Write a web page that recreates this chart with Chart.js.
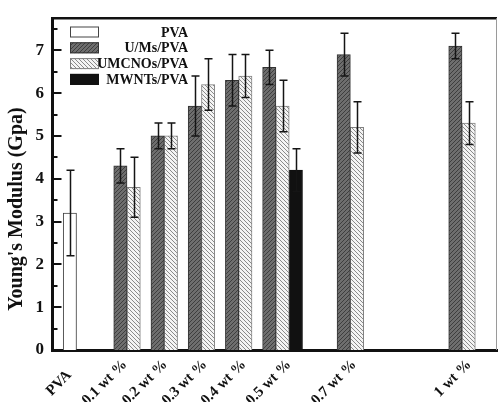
<!DOCTYPE html>
<html>
<head>
<meta charset="utf-8">
<script src="https://cdn.jsdelivr.net/npm/chart.js@4/dist/chart.umd.min.js"></script>
<style>
    html, body { margin: 0; padding: 0; background: #fff; }
    #wrap { width: 498px; height: 402px; }
</style>
</head>
<body>
<div id="wrap"><canvas id="chart" width="498" height="402"></canvas></div>
<script>
// Axis labels and where they sit on the wt% axis (PVA sits under the neat PVA bar)
const tickLabels = ['PVA    ', '0.1 wt %', '0.2 wt %', '0.3 wt %', '0.4 wt %', '0.5 wt %', '0.7 wt %', '1 wt %'];
const tickPositions = [-0.027, 0.094, 0.202, 0.309, 0.414, 0.535, 0.71, 1.019];
const yTicks = [0, 1, 2, 3, 4, 5, 6, 7];
const yTitle = "Young's Modulus (Gpa)";

// Series (load in wt%, modulus in GPa, symmetric error)
const seriesNames = ['PVA', 'U/Ms/PVA', 'UMCNOs/PVA', 'MWNTs/PVA'];

const pvaLoad = [0];
const pvaModulus = [3.2];
const pvaError = [1.0];

const umsLoad = [0.1, 0.2, 0.3, 0.4, 0.5, 0.7, 1];
const umsModulus = [4.3, 5.0, 5.7, 6.3, 6.6, 6.9, 7.1];
const umsError = [0.4, 0.3, 0.7, 0.6, 0.4, 0.5, 0.3];

const umcLoad = [0.1, 0.2, 0.3, 0.4, 0.5, 0.7, 1];
const umcModulus = [3.8, 5.0, 6.2, 6.4, 5.7, 5.2, 5.3];
const umcError = [0.7, 0.3, 0.6, 0.5, 0.6, 0.6, 0.5];

const mwntLoad = [0.5];
const mwntModulus = [4.2];
const mwntError = [0.5];

const serifFont = '"Liberation Serif", "Times New Roman", serif';

function makeHatch(bg, line, forward) {
    const size = 4;
    const c = document.createElement('canvas');
    c.width = size;
    c.height = size;
    const g = c.getContext('2d');
    g.fillStyle = bg;
    g.fillRect(0, 0, size, size);
    g.strokeStyle = line;
    g.lineWidth = 1;
    g.beginPath();
    if (forward) {
        g.moveTo(0, size); g.lineTo(size, 0);
        g.moveTo(-1, 1); g.lineTo(1, -1);
        g.moveTo(size - 1, size + 1); g.lineTo(size + 1, size - 1);
    } else {
        g.moveTo(0, 0); g.lineTo(size, size);
        g.moveTo(size - 1, -1); g.lineTo(size + 1, 1);
        g.moveTo(-1, size - 1); g.lineTo(1, size + 1);
    }
    g.stroke();
    return g.createPattern(c, 'repeat');
}

function toPoints(xs, ys) {
    return xs.map((x, i) => ({ x: x, y: ys[i] }));
}

const umsFill = makeHatch('#6e6e6e', '#3e3e3e', true);
const umcFill = makeHatch('#f4f4f4', '#8a8a8a', false);

// Error bars drawn on top of each bar
const errorBars = {
    id: 'errorBars',
    afterDatasetsDraw(chart) {
        const ctx = chart.ctx;
        const yScale = chart.scales.y;
        ctx.save();
        ctx.strokeStyle = '#151515';
        ctx.lineWidth = 1.5;
        chart.data.datasets.forEach((ds, di) => {
            const meta = chart.getDatasetMeta(di);
            meta.data.forEach((bar, i) => {
                const v = ds.data[i].y;
                const e = ds.errors[i];
                const top = yScale.getPixelForValue(v + e);
                const bot = yScale.getPixelForValue(v - e);
                const x = Math.round(bar.x) + 0.5;
                ctx.beginPath();
                ctx.moveTo(x, top); ctx.lineTo(x, bot);
                ctx.moveTo(x - 4, top); ctx.lineTo(x + 4, top);
                ctx.moveTo(x - 4, bot); ctx.lineTo(x + 4, bot);
                ctx.stroke();
            });
        });
        ctx.restore();
    }
};

// Frame, inward y ticks, y title and the boxed legend
const frameAndLegend = {
    id: 'frameAndLegend',
    afterDraw(chart) {
        const ctx = chart.ctx;
        const area = chart.chartArea;
        const yScale = chart.scales.y;
        ctx.save();

        // top and right frame
        ctx.strokeStyle = '#111';
        ctx.lineWidth = 2.5;
        ctx.beginPath();
        ctx.moveTo(area.left, area.top);
        ctx.lineTo(area.right, area.top);
        ctx.stroke();
        ctx.strokeStyle = '#9a9a9a';
        ctx.lineWidth = 1;
        ctx.beginPath();
        ctx.moveTo(area.right - 0.5, area.top);
        ctx.lineTo(area.right - 0.5, area.bottom);
        ctx.stroke();

        // inward ticks on the y axis
        ctx.strokeStyle = '#111';
        ctx.lineWidth = 2;
        for (let v = 0.5; v < 7.75; v += 0.5) {
            const py = Math.round(yScale.getPixelForValue(v));
            const len = Number.isInteger(v) ? 8 : 4;
            ctx.beginPath();
            ctx.moveTo(area.left, py);
            ctx.lineTo(area.left + 1.5 + len, py);
            ctx.stroke();
        }

        // y axis title, sitting a little below the middle like the original
        ctx.fillStyle = '#111';
        ctx.font = 'bold 20px ' + serifFont;
        ctx.textAlign = 'center';
        ctx.textBaseline = 'middle';
        ctx.translate(17, 209);
        ctx.rotate(-Math.PI / 2);
        ctx.fillText(yTitle, 0, 0);
        ctx.setTransform(1, 0, 0, 1, 0, 0);

        // legend
        const boxLeft = 70, boxW = 29, boxH = 11, textRight = 188;
        ctx.font = 'bold 14px ' + serifFont;
        ctx.textAlign = 'right';
        ctx.textBaseline = 'middle';
        chart.data.datasets.forEach((ds, i) => {
            const cy = 32 + i * 15.8;
            ctx.fillStyle = ds.backgroundColor;
            ctx.fillRect(boxLeft, cy - boxH / 2, boxW, boxH);
            ctx.strokeStyle = ds.borderColor;
            ctx.lineWidth = 1;
            ctx.strokeRect(boxLeft + 0.5, cy - boxH / 2 + 0.5, boxW - 1, boxH - 1);
            ctx.fillStyle = '#111';
            ctx.fillText(ds.label, textRight, cy + 1);
        });
        ctx.restore();
    }
};

const ctx = document.getElementById('chart').getContext('2d');
new Chart(ctx, {
    type: 'bar',
    data: {
        datasets: [
            {
                label: seriesNames[0],
                data: toPoints(pvaLoad, pvaModulus),
                errors: pvaError,
                backgroundColor: '#ffffff',
                borderColor: '#444444'
            },
            {
                label: seriesNames[1],
                data: toPoints(umsLoad, umsModulus),
                errors: umsError,
                backgroundColor: umsFill,
                borderColor: '#333333'
            },
            {
                label: seriesNames[2],
                data: toPoints(umcLoad, umcModulus),
                errors: umcError,
                backgroundColor: umcFill,
                borderColor: '#808080'
            },
            {
                label: seriesNames[3],
                data: toPoints(mwntLoad, mwntModulus),
                errors: mwntError,
                backgroundColor: '#111111',
                borderColor: '#111111'
            }
        ]
    },
    options: {
        responsive: false,
        animation: false,
        devicePixelRatio: 1,
        layout: { padding: { top: 16, right: 1, left: 0, bottom: 0 } },
        datasets: {
            bar: { barThickness: 13.3, borderWidth: 1 }
        },
        plugins: {
            legend: { display: false },
            tooltip: { enabled: false }
        },
        scales: {
            x: {
                type: 'linear',
                min: -0.1016,
                max: 1.094,
                offset: false,
                grid: { display: false, drawTicks: false },
                border: { color: '#111', width: 3 },
                afterBuildTicks: (scale) => {
                    scale.ticks = tickPositions.map(v => ({ value: v }));
                },
                afterFit: (scale) => {
                    scale.height = 52;
                    scale.paddingLeft = 0;
                    scale.paddingRight = 0;
                },
                ticks: {
                    autoSkip: false,
                    maxRotation: 45,
                    minRotation: 45,
                    padding: 6,
                    color: '#111',
                    font: { family: serifFont, size: 15, weight: 'bold' },
                    callback: (value, index) => tickLabels[index]
                }
            },
            y: {
                min: 0,
                max: 7.75,
                grid: { display: false, drawTicks: false },
                border: { color: '#111', width: 3 },
                afterBuildTicks: (scale) => {
                    scale.ticks = yTicks.map(v => ({ value: v }));
                },
                afterFit: (scale) => {
                    scale.width = 52;
                },
                ticks: {
                    padding: 8,
                    color: '#111',
                    font: { family: serifFont, size: 17, weight: 'bold' }
                }
            }
        }
    },
    plugins: [errorBars, frameAndLegend]
});
</script>
</body>
</html>
